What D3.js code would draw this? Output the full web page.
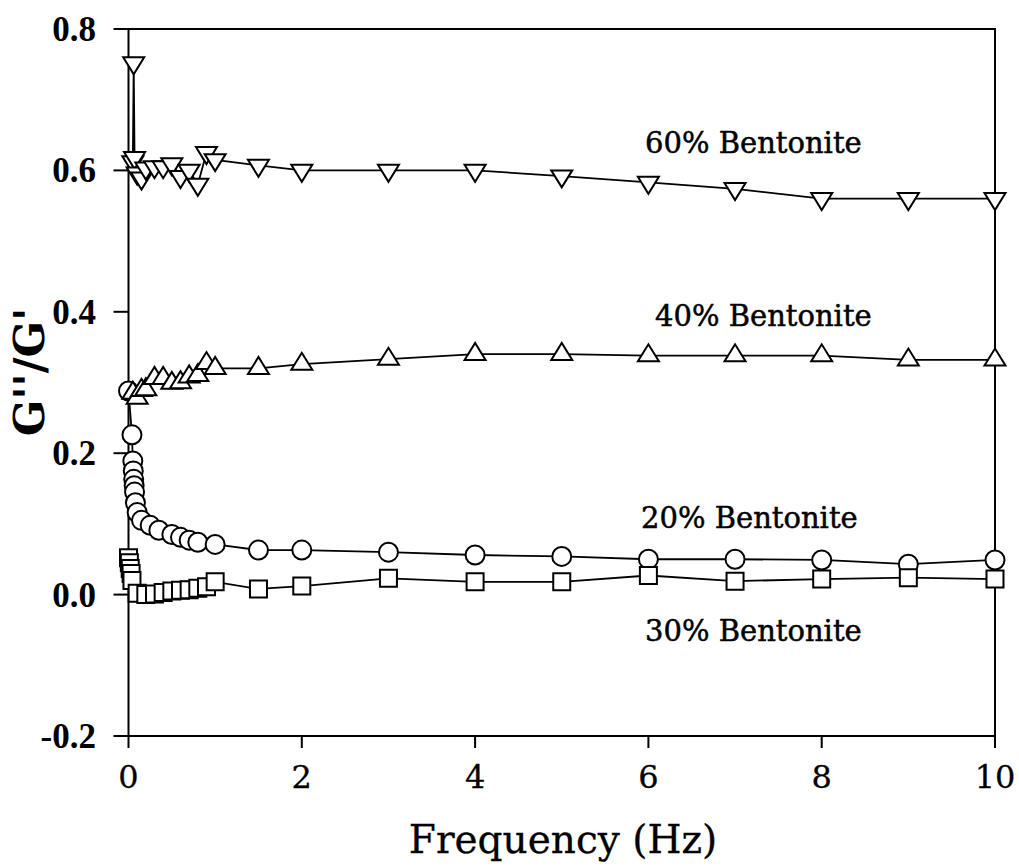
<!DOCTYPE html>
<html>
<head>
<meta charset="utf-8">
<script src="https://cdn.jsdelivr.net/npm/d3@7"></script>
<style>
  html, body { margin: 0; padding: 0; background: #fff; }
  svg { display: block; }
</style>
</head>
<body>
<svg id="chart" width="1019" height="867"></svg>
<script>
// Loss ratio G''/G' against oscillation frequency for four bentonite contents
const freq60 = [0.05, 0.06, 0.07, 0.1, 0.15, 0.2, 0.3, 0.4, 0.5, 0.6, 0.7, 0.8, 0.9, 1.0, 1.5, 2, 3, 4, 5, 6, 7, 8, 9, 10];
const ratio60 = [0.612, 0.752, 0.618, 0.596, 0.589, 0.603, 0.605, 0.605, 0.609, 0.591, 0.600, 0.580, 0.625, 0.615, 0.607, 0.600, 0.600, 0.600, 0.592, 0.583, 0.574, 0.560, 0.560, 0.560];

const freq40 = [0.05, 0.1, 0.15, 0.2, 0.3, 0.4, 0.5, 0.6, 0.7, 0.8, 0.9, 1.0, 1.5, 2, 3, 4, 5, 6, 7, 8, 9, 10];
const ratio40 = [0.285, 0.278, 0.289, 0.290, 0.306, 0.306, 0.299, 0.300, 0.308, 0.310, 0.327, 0.320, 0.320, 0.326, 0.333, 0.340, 0.340, 0.338, 0.338, 0.338, 0.332, 0.332];

const freq20 = [0, 0.04, 0.05, 0.055, 0.06, 0.065, 0.07, 0.08, 0.1, 0.15, 0.25, 0.35, 0.5, 0.6, 0.7, 0.8, 1.0, 1.5, 2, 3, 4, 5, 6, 7, 8, 9, 10];
const ratio20 = [0.288, 0.226, 0.189, 0.175, 0.163, 0.154, 0.145, 0.130, 0.116, 0.105, 0.098, 0.091, 0.085, 0.081, 0.077, 0.074, 0.071, 0.063, 0.063, 0.060, 0.056, 0.054, 0.050, 0.050, 0.049, 0.043, 0.049];

const freq30 = [0.0, 0.01, 0.02, 0.03, 0.04, 0.1, 0.2, 0.3, 0.4, 0.5, 0.6, 0.7, 0.8, 0.9, 1.0, 1.5, 2, 3, 4, 5, 6, 7, 8, 9, 10];
const ratio30 = [0.052, 0.045, 0.037, 0.030, 0.020, 0.002, 0.000, 0.001, 0.003, 0.005, 0.006, 0.007, 0.009, 0.011, 0.018, 0.008, 0.012, 0.023, 0.018, 0.018, 0.027, 0.019, 0.022, 0.024, 0.022];

const xTicks = [0, 2, 4, 6, 8, 10];
const xTickLabels = ["0", "2", "4", "6", "8", "10"];
const yTicks = [-0.2, 0.0, 0.2, 0.4, 0.6, 0.8];
const yTickLabels = ["-0.2", "0.0", "0.2", "0.4", "0.6", "0.8"];

const seriesNames = ["20% Bentonite", "30% Bentonite", "40% Bentonite", "60% Bentonite"];
const labelAt = [[641, 528], [645, 641], [655, 326], [645, 153]]; // text anchor points

const svg = d3.select("#chart");
const x = d3.scaleLinear().domain([0, 10]).range([128.5, 995]);
const y = d3.scaleLinear().domain([-0.2, 0.8]).range([736, 29]);

// marker shapes
const triDown = { draw(ctx) { const w = 10.5, h = 17; ctx.moveTo(-w, -h / 3); ctx.lineTo(w, -h / 3); ctx.lineTo(0, 2 * h / 3); ctx.closePath(); } };
const triUp = { draw(ctx) { const w = 10.5, h = 17; ctx.moveTo(-w, h / 3); ctx.lineTo(w, h / 3); ctx.lineTo(0, -2 * h / 3); ctx.closePath(); } };
const square = { draw(ctx) { const s = 8.5; ctx.moveTo(-s, -s); ctx.lineTo(s, -s); ctx.lineTo(s, s); ctx.lineTo(-s, s); ctx.closePath(); } };
const circle = { draw(ctx) { const r = 9.5; ctx.moveTo(r, 0); ctx.arc(0, 0, r, 0, 2 * Math.PI); } };

const series = [
  { xs: freq20, ys: ratio20, shape: circle },
  { xs: freq30, ys: ratio30, shape: square },
  { xs: freq40, ys: ratio40, shape: triUp },
  { xs: freq60, ys: ratio60, shape: triDown }
];

// frame
svg.append("rect")
  .attr("x", x(0)).attr("y", y(0.8))
  .attr("width", x(10) - x(0)).attr("height", y(-0.2) - y(0.8))
  .attr("fill", "none").attr("stroke", "#000").attr("stroke-width", 2);

// y ticks and labels
svg.selectAll(".ytick").data(yTicks).enter().append("line")
  .attr("x1", x(0) - 15).attr("x2", x(0))
  .attr("y1", d => y(d)).attr("y2", d => y(d))
  .attr("stroke", "#000").attr("stroke-width", 2);
svg.selectAll(".ylab").data(yTicks).enter().append("text")
  .attr("x", 96).attr("y", d => y(d)).attr("dy", "0.34em")
  .attr("text-anchor", "end")
  .attr("font-family", "Liberation Serif, serif").attr("font-weight", "bold").attr("font-size", 35)
  .text((d, i) => yTickLabels[i]);

// x ticks and labels
svg.selectAll(".xtick").data(xTicks).enter().append("line")
  .attr("x1", d => x(d)).attr("x2", d => x(d))
  .attr("y1", y(-0.2)).attr("y2", y(-0.2) + 12)
  .attr("stroke", "#000").attr("stroke-width", 2);
svg.selectAll(".xlab").data(xTicks).enter().append("text")
  .attr("x", d => x(d)).attr("y", 788)
  .attr("text-anchor", "middle")
  .attr("font-family", "DejaVu Serif, serif").attr("font-size", 32)
  .attr("stroke", "#000").attr("stroke-width", 0.3)
  .text((d, i) => xTickLabels[i]);

// axis titles
svg.append("text")
  .attr("x", 563).attr("y", 853).attr("text-anchor", "middle")
  .attr("font-family", "DejaVu Serif, serif").attr("font-size", 39)
  .attr("stroke", "#000").attr("stroke-width", 0.3)
  .text("Frequency (Hz)");
svg.append("text")
  .attr("transform", "translate(44,372) rotate(-90)")
  .attr("text-anchor", "middle")
  .attr("font-family", "DejaVu Serif, serif").attr("font-weight", "bold").attr("font-size", 43)
  .text("G''/G'");

// series: line then open markers
const line = d3.line().x(d => x(d[0])).y(d => y(d[1]));
series.forEach(s => {
  const pts = s.xs.map((f, i) => [f, s.ys[i]]);
  const g = svg.append("g");
  g.append("path").attr("d", line(pts))
    .attr("fill", "none").attr("stroke", "#000").attr("stroke-width", 1.8);
  g.selectAll("path.m").data(pts).enter().append("path")
    .attr("class", "m")
    .attr("d", d3.symbol().type(s.shape))
    .attr("transform", d => `translate(${x(d[0])},${y(d[1])})`)
    .attr("fill", "#fff").attr("stroke", "#000").attr("stroke-width", 2);
});

// series labels
svg.selectAll(".slab").data(seriesNames).enter().append("text")
  .attr("x", (d, i) => labelAt[i][0]).attr("y", (d, i) => labelAt[i][1])
  .attr("font-family", "DejaVu Serif, serif").attr("font-size", 29)
  .attr("fill", "#000").attr("stroke", "#000").attr("stroke-width", 0.5)
  .text(d => d);
</script>
</body>
</html>
